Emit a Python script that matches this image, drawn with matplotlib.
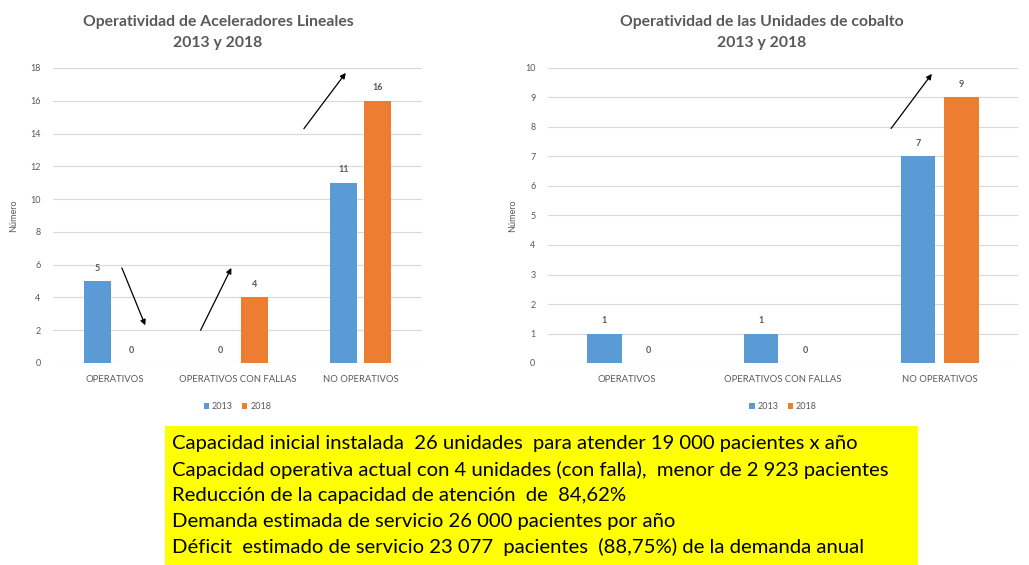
import matplotlib.pyplot as plt
from matplotlib.patches import Rectangle

plt.rcParams['font.family'] = ['Lato', 'DejaVu Sans']

categories = ['OPERATIVOS', 'OPERATIVOS CON FALLAS', 'NO OPERATIVOS']
series_names = ['2013', '2018']

lin_2013 = [5, 0, 11]
lin_2018 = [0, 4, 16]
cob_2013 = [1, 1, 7]
cob_2018 = [0, 0, 9]

lin_title = 'Operatividad de Aceleradores Lineales\n2013 y 2018'
cob_title = 'Operatividad de las Unidades de cobalto\n2013 y 2018'

# arrows drawn over the charts (start -> end, data coords)
lin_arrows = [((0.06, 5.8), (0.25, 2.3)),
              ((0.70, 2.0), (0.95, 5.8)),
              ((1.54, 14.3), (1.88, 17.7))]
cob_arrows = [((1.69, 7.95), (1.95, 9.8))]

notes = ['Capacidad inicial instalada  26 unidades  para atender 19 000 pacientes x año',
         'Capacidad operativa actual con 4 unidades (con falla),  menor de 2 923 pacientes',
         'Reducción de la capacidad de atención  de  84,62%',
         'Demanda estimada de servicio 26 000 pacientes por año',
         'Déficit  estimado de servicio 23 077  pacientes  (88,75%) de la demanda anual']

blue = '#5B9BD5'
orange = '#ED7D31'
grey = '#595959'

fig = plt.figure(figsize=(10.29, 5.65), dpi=100)


def draw_chart(ax, v13, v18, ymax, ystep, title, arrows, ylab_x, title_x):
    x = range(len(categories))
    off = 0.14
    w = 0.22
    b1 = ax.bar([i - off for i in x], v13, w, color=blue, label=series_names[0], zorder=3)
    b2 = ax.bar([i + off for i in x], v18, w, color=orange, label=series_names[1], zorder=3)
    for bars, vals in ((b1, v13), (b2, v18)):
        for b, v in zip(bars, vals):
            ax.annotate(str(v), (b.get_x() + b.get_width() / 2, v), xytext=(0, 6),
                        textcoords='offset points', ha='center', va='bottom',
                        fontsize=6.5, fontweight='bold', color=grey)
    ax.set_xlim(-0.5, 2.5)
    ax.set_ylim(0, ymax)
    ax.set_yticks(range(0, ymax + 1, ystep))
    ax.set_xticks(list(x))
    ax.set_xticklabels(categories)
    ax.tick_params(axis='both', length=0, labelsize=6.5, colors=grey)
    ax.tick_params(axis='x', labelsize=6.8, pad=9)
    ax.tick_params(axis='y', pad=9)
    ax.grid(axis='y', color='#D9D9D9', linewidth=0.8, zorder=0)
    for s in ax.spines.values():
        s.set_visible(False)
    ax.set_ylabel('Número', fontsize=6.5, color=grey)
    ax.yaxis.set_label_coords(ylab_x, 0.5)
    fig.text(title_x, 0.942, title, ha='center', va='center', fontsize=11.3,
             fontweight='bold', color=grey, linespacing=1.6)
    for (x0, y0), (x1, y1) in arrows:
        ax.annotate('', xy=(x1, y1), xytext=(x0, y0),
                    arrowprops=dict(arrowstyle='-|>', color='black', lw=0.9,
                                    mutation_scale=8, shrinkA=0, shrinkB=0),
                    annotation_clip=False, zorder=5)
    ax.legend(loc='upper center', bbox_to_anchor=(0.5, -0.105), ncol=2, frameon=False,
              fontsize=6.5, handlelength=0.6, handleheight=0.6, handletextpad=0.3,
              columnspacing=1.0, labelcolor=grey)


ax1 = fig.add_axes([53 / 1029, 1 - 363 / 565, (422 - 53) / 1029, (363 - 68) / 565])
draw_chart(ax1, lin_2013, lin_2018, 18, 2, lin_title, lin_arrows, -0.095, 218 / 1029)

ax2 = fig.add_axes([548 / 1029, 1 - 363 / 565, (1018 - 548) / 1029, (363 - 68) / 565])
draw_chart(ax2, cob_2013, cob_2018, 10, 1, cob_title, cob_arrows, -0.065, 762 / 1029)

# yellow summary box
fig.patches.append(Rectangle((165 / 1029, 0), (918 - 165) / 1029, (565 - 426) / 565,
                             transform=fig.transFigure, facecolor='#FFFF00',
                             edgecolor='none', zorder=0))
for i, line in enumerate(notes):
    fig.text(172 / 1029, 1 - (444 + i * 25.7) / 565, line, ha='left', va='center',
             fontsize=14.6, color='black')

fig.savefig('out.png', dpi=100)
